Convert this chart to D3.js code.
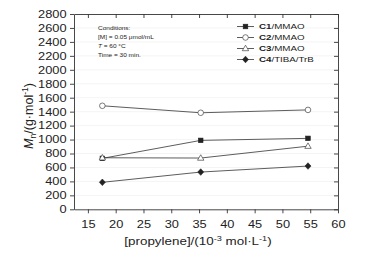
<!DOCTYPE html>
<html>
<head>
<meta charset="utf-8">
<script src="https://cdn.jsdelivr.net/npm/d3@7"></script>
<style>
  body { margin: 0; background: #fff; }
  text { font-family: "Liberation Sans", Arial, sans-serif; fill: #222; }
</style>
</head>
<body>
<div id="chart"></div>
<script>
// propylene concentration (10^-3 mol/L)
var conc = [17.6, 35.3, 54.6];
var c1 = [730, 988, 1017];
var c2 = [1484, 1384, 1425];
var c3 = [739, 735, 905];
var c4 = [387, 534, 620];
var seriesNames = ["C1", "C2", "C3", "C4"];
var seriesSuffix = ["/MMAO", "/MMAO", "/MMAO", "/TIBA/TrB"];
var xTicks = [15, 20, 25, 30, 35, 40, 45, 50, 55, 60];
var yTicks = [0, 200, 400, 600, 800, 1000, 1200, 1400, 1600, 1800, 2000, 2200, 2400, 2600, 2800];
var notes = ["Conditions:", "[M] = 0.05 \u03bcmol/mL", "T = 60 \u00b0C", "Time = 30 min."];

var W = 366, H = 260;
var plotL = 74, plotR = 338, plotT = 14, plotB = 209.3;
var sx = 1.22; // glyphs in the picture are a bit wide

var svg = d3.select("#chart").append("svg")
    .attr("width", W).attr("height", H);

var x = d3.scaleLinear().domain([12.5, 60]).range([plotL, plotR]);
var y = d3.scaleLinear().domain([0, 2800]).range([plotB, plotT]);

// faint grid
svg.append("g").selectAll("line")
    .data(yTicks.slice(1, -1))
    .enter().append("line")
    .attr("x1", plotL).attr("x2", plotR)
    .attr("y1", function(d){ return y(d); })
    .attr("y2", function(d){ return y(d); })
    .style("stroke", "#f1f1f1").style("stroke-width", 0.8);

var yAxis = svg.append("g")
    .attr("transform", "translate(" + plotL + ",0)")
    .call(d3.axisLeft(y).tickValues(yTicks).tickFormat(d3.format("d"))
      .tickSize(4).tickPadding(4).tickSizeOuter(0));
yAxis.selectAll("text")
    .attr("x", -7.5 / sx)
    .attr("transform", "scale(" + sx + ",1)")
    .style("font-size", "10.5px");

var xAxis = svg.append("g")
    .attr("transform", "translate(0," + plotB + ")")
    .call(d3.axisBottom(x).tickValues(xTicks).tickSize(4).tickPadding(7).tickSizeOuter(0));
xAxis.selectAll("text")
    .attr("x", 0)
    .attr("transform", "scale(" + sx + ",1)")
    .style("font-size", "10.5px");

svg.append("g")
    .attr("transform", "translate(0," + plotT + ")")
    .call(d3.axisBottom(x).tickValues(xTicks).tickSize(4).tickSizeOuter(0).tickFormat(""));
svg.append("g")
    .attr("transform", "translate(" + plotR + ",0)")
    .call(d3.axisLeft(y).tickValues(yTicks).tickSize(4).tickSizeOuter(0).tickFormat(""));

svg.selectAll(".domain").style("stroke", "#333").style("stroke-width", 0.9);
svg.selectAll(".tick line").style("stroke", "#333").style("stroke-width", 0.9);

// axis titles
var xt = svg.append("text")
    .attr("transform", "translate(198,245) scale(" + sx + ",1)")
    .attr("text-anchor", "middle")
    .style("font-size", "11px");
xt.append("tspan").text("[propylene]/(10");
xt.append("tspan").attr("dy", -4).style("font-size", "7.5px").text("-3");
xt.append("tspan").attr("dy", 4).text(" mol\u00b7L");
xt.append("tspan").attr("dy", -4).style("font-size", "7.5px").text("-1");
xt.append("tspan").attr("dy", 4).text(")");

var yt = svg.append("text")
    .attr("transform", "translate(33,116) rotate(-90)")
    .attr("text-anchor", "middle")
    .style("font-size", "12.5px");
yt.append("tspan").style("font-style", "italic").text("M");
yt.append("tspan").attr("dy", 3).style("font-size", "8.5px").text("n");
yt.append("tspan").attr("dy", -3).text("/(g\u00b7mol");
yt.append("tspan").attr("dy", -5).style("font-size", "8.5px").text("-1");
yt.append("tspan").attr("dy", 5).text(")");

// series
var series = [c1, c2, c3, c4];
var shapes = ["square", "circle", "triangle", "diamond"];
var fills = ["#222", "#fff", "#fff", "#222"];

function drawMarker(g, shape, fill) {
  if (shape == "square") {
    g.append("rect").attr("x", -2.3).attr("y", -2.3).attr("width", 4.6).attr("height", 4.6)
      .style("fill", fill).style("stroke", "#222").style("stroke-width", 0.6);
  } else if (shape == "circle") {
    g.append("circle").attr("r", 2.8)
      .style("fill", fill).style("stroke", "#444").style("stroke-width", 0.7);
  } else if (shape == "triangle") {
    g.append("path").attr("d", "M0,-3.3L3.2,2.2L-3.2,2.2Z")
      .style("fill", fill).style("stroke", "#444").style("stroke-width", 0.7);
  } else {
    g.append("path").attr("d", "M0,-3.3L3,0L0,3.3L-3,0Z")
      .style("fill", fill).style("stroke", "#222").style("stroke-width", 0.6);
  }
}

var line = d3.line()
    .x(function(d, i){ return x(conc[i]); })
    .y(function(d){ return y(d); });

series.forEach(function(s, k) {
  svg.append("path").datum(s)
    .attr("d", line)
    .style("fill", "none").style("stroke", "#333").style("stroke-width", 0.8);
});
series.forEach(function(s, k) {
  s.forEach(function(v, i) {
    var g = svg.append("g").attr("transform", "translate(" + x(conc[i]) + "," + y(v) + ")");
    drawMarker(g, shapes[k], fills[k]);
  });
});

// legend
seriesNames.forEach(function(name, k) {
  var ly = 26.5 + k * 11;
  svg.append("line").attr("x1", 237).attr("x2", 254).attr("y1", ly).attr("y2", ly)
    .style("stroke", "#333").style("stroke-width", 0.8);
  var g = svg.append("g").attr("transform", "translate(245.5," + ly + ")");
  drawMarker(g, shapes[k], fills[k]);
  var t = svg.append("text")
    .attr("transform", "translate(259," + (ly + 2.8) + ") scale(" + sx + ",1)")
    .style("font-size", "8px");
  t.append("tspan").style("font-weight", "bold").text(name);
  t.append("tspan").text(seriesSuffix[k]);
});

// conditions note
notes.forEach(function(n, i) {
  var t = svg.append("text")
    .attr("transform", "translate(98," + (29.7 + i * 9) + ") scale(1.12,1)")
    .style("font-size", "5.8px");
  if (i == 2) {
    t.append("tspan").style("font-style", "italic").text("T");
    t.append("tspan").text(n.slice(1));
  } else {
    t.text(n);
  }
});
</script>
</body>
</html>
